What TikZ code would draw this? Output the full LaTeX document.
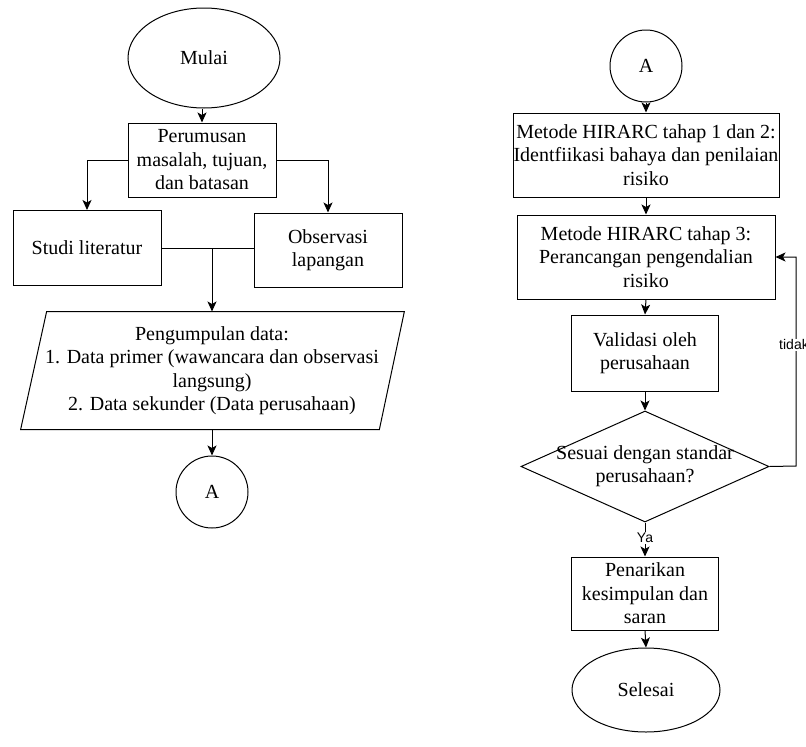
\documentclass[tikz,border=0pt]{standalone}
\usepackage{fontspec}
\setmainfont{Liberation Serif}
\newfontfamily\lblfont{Liberation Sans}
\usetikzlibrary{arrows.meta,shapes.geometric,calc}
\begin{document}
\begin{tikzpicture}[x=1pt,y=-1pt,line width=1pt,
  every node/.style={font=\fontsize{20}{23.5}\selectfont,align=center,inner sep=0pt},
  box/.style={draw,rectangle},
  oval/.style={draw,ellipse},
  conn/.style={draw,circle,minimum size=72pt},
  arr/.style={-{Stealth[length=10pt,width=9pt,inset=2.5pt]}},
  lbl/.style={font=\lblfont\fontsize{14}{16}\selectfont,fill=white,inner sep=1pt}]
\useasboundingbox (0,0) rectangle (806,747);
% left column
\node[oval,minimum width=152pt,minimum height=100pt] (mulai) at (204,58) {Mulai};
\node[box,minimum width=148pt,minimum height=74pt] (perum) at (202,160) {Perumusan\\masalah, tujuan,\\dan batasan};
\node[box,minimum width=148pt,minimum height=75pt] (studi) at (87,248) {Studi literatur};
\node[box,minimum width=148pt,minimum height=74pt] (obs) at (328,250) {Observasi\\lapangan};
\node[minimum width=330pt,minimum height=117pt] (pg) at (212,370.5) {Pengumpulan data:\\1. Data primer (wawancara dan observasi\\langsung)\\2. Data sekunder (Data perusahaan)};
\draw ($(pg.north west)+(2,0)$) -- ($(pg.north east)+(25,0)$) -- (pg.south east) -- ($(pg.south west)+(-24,0)$) -- cycle;
\node[conn] (a1) at (212,492) {A};
\coordinate (j) at (212,248);
\draw[arr] (mulai.south -| perum.north) -- (perum.north);
\draw[arr] (perum.west) -| (studi.north);
\draw[arr] (perum.east) -| (obs.north);
\draw (studi.east) -- (obs.west |- studi.east);
\draw[arr] (j) -- (pg.north);
\draw[arr] (pg.south) -- (a1.north);
% right column
\node[conn] (a2) at (646,66) {A};
\node[box,minimum width=266pt,minimum height=84pt] (h12) at (646,155) {Metode HIRARC tahap 1 dan 2:\\Identfiikasi bahaya dan penilaian\\risiko};
\node[box,minimum width=258pt,minimum height=84pt] (h3) at (646,257) {Metode HIRARC tahap 3:\\Perancangan pengendalian\\risiko};
\node[box,minimum width=147pt,minimum height=76pt] (val) at (645,353) {Validasi oleh\\perusahaan};
\node[draw,diamond,aspect=2.23,minimum width=248pt,minimum height=111pt] (dia) at (645,466.5) {};
\node at (645,466) {Sesuai dengan standar\\perusahaan?};
\node[box,minimum width=147pt,minimum height=73pt] (pen) at (645,593.5) {Penarikan\\kesimpulan dan\\saran};
\node[oval,minimum width=148pt,minimum height=84pt] (sel) at (646,690) {Selesai};
\coordinate (loop) at (796,466);
\draw[arr] (a2.south) -- (h12.north);
\draw[arr] (h12.south) -- (h3.north);
\draw[arr] (h3.south) -- (val.north);
\draw[arr] (val.south) -- (dia.north);
\draw[arr] (dia.south) -- node[lbl,pos=0.45] {Ya} (pen.north);
\draw[arr] (pen.south) -- (sel.north);
\draw[arr] (dia.east) -- (loop) -- node[lbl,pos=0.58,xshift=-2pt] {tidak} (loop |- h3.east) -- (h3.east);
\end{tikzpicture}
\end{document}
